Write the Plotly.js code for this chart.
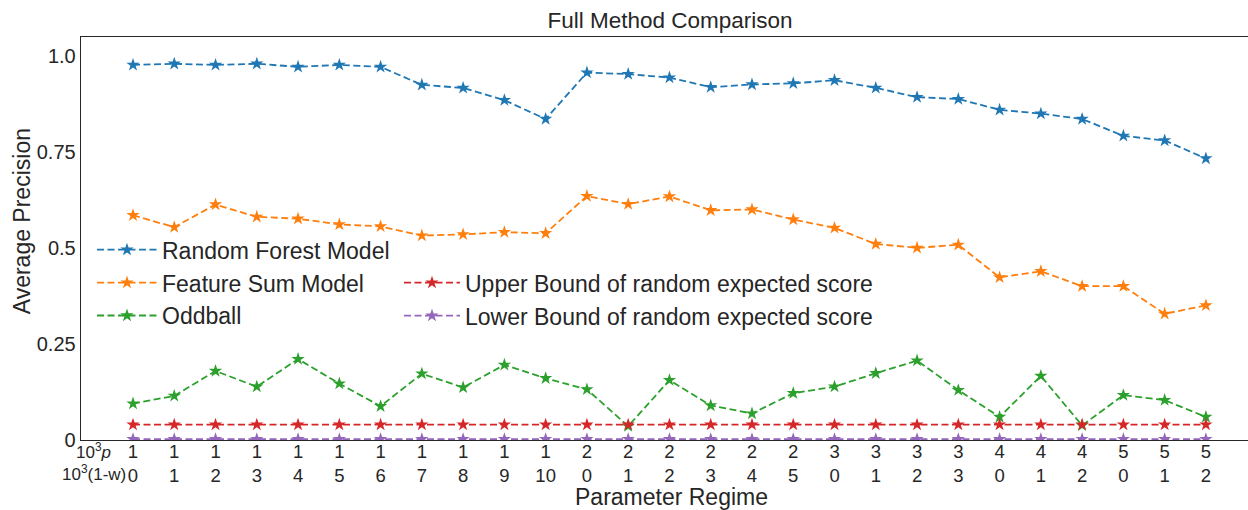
<!DOCTYPE html>
<html>
<head>
<meta charset="utf-8">
<script src="https://cdn.plot.ly/plotly-3.0.1.min.js"></script>
<style>html,body{margin:0;padding:0;background:#fff;}#chart{width:1248px;height:510px;}</style>
</head>
<body>
<div id="chart"></div>
<script>
// Parameter regimes: 10^3 p and 10^3 (1-w)
const regimeP = [1,1,1,1,1,1,1,1,1,1,1,2,2,2,2,2,2,3,3,3,3,4,4,4,5,5,5];
const regimeW = [0,1,2,3,4,5,6,7,8,9,10,0,1,2,3,4,5,0,1,2,3,0,1,2,0,1,2];

const randomForest = [0.978,0.981,0.978,0.981,0.973,0.978,0.973,0.926,0.918,0.886,0.837,0.958,0.954,0.945,0.920,0.927,0.930,0.938,0.918,0.894,0.889,0.861,0.851,0.837,0.793,0.781,0.734];
const featureSum   = [0.586,0.555,0.614,0.582,0.577,0.562,0.557,0.533,0.536,0.542,0.539,0.636,0.615,0.635,0.599,0.601,0.575,0.553,0.511,0.501,0.509,0.424,0.440,0.401,0.401,0.329,0.351];
const oddball      = [0.095,0.115,0.180,0.139,0.211,0.147,0.088,0.173,0.137,0.196,0.161,0.132,0.036,0.156,0.090,0.069,0.122,0.139,0.174,0.207,0.130,0.060,0.167,0.038,0.117,0.104,0.060];
const upperBound   = [0.040,0.040,0.040,0.040,0.040,0.040,0.040,0.040,0.040,0.040,0.040,0.040,0.040,0.040,0.040,0.040,0.040,0.040,0.040,0.040,0.040,0.040,0.040,0.040,0.040,0.040,0.040];
const lowerBound   = [0.002,0.002,0.002,0.002,0.002,0.002,0.002,0.002,0.002,0.002,0.002,0.002,0.002,0.002,0.002,0.002,0.002,0.002,0.002,0.002,0.002,0.002,0.002,0.002,0.002,0.002,0.002];

const seriesNames = ["Random Forest Model","Feature Sum Model","Oddball","Upper Bound of random expected score","Lower Bound of random expected score"];
const seriesColors = ["#1f77b4","#ff7f0e","#2ca02c","#d62728","#9467bd"];
const seriesData = [randomForest, featureSum, oddball, upperBound, lowerBound];
const seriesLegend = ["legend","legend","legend","legend2","legend2"];

const yTickVals = [0, 0.25, 0.5, 0.75, 1.0];
const yTickText = ["0", "0.25", "0.5", "0.75", "1.0"];

const xIdx = regimeP.map((_, i) => i);
const xTickText = regimeP.map((p, i) => p + "<br>" + regimeW[i]);

const traces = seriesData.map((ys, k) => ({
  type: "scatter",
  mode: "lines+markers",
  x: xIdx,
  y: ys,
  name: seriesNames[k],
  legend: seriesLegend[k],
  legendgroup: "g" + k,
  line: {color: seriesColors[k], width: 1.8, dash: "7px,3.5px"},
  marker: {symbol: "star", size: 10, color: seriesColors[k], line: {width: 0}}
}));

const ink = "#262626";
const font = "Liberation Sans, Arial, sans-serif";
const L = 81, R = 1248, T = 36.5, B = 440;
const px2x = p => (p - L) / (R - L);
const px2y = p => (B - p) / (B - T);

const layout = {
  width: 1248, height: 510,
  margin: {l: L, r: 0, t: T, b: 510 - B},
  paper_bgcolor: "#ffffff", plot_bgcolor: "#ffffff",
  font: {family: font, color: ink, size: 20},
  showlegend: true,
  title: {text: "Full Method Comparison", font: {size: 22.5, color: ink, family: font},
          x: 670/1248, xanchor: "center", xref: "container", y: 1 - 20/510, yanchor: "middle", yref: "container"},
  xaxis: {
    range: [-1.26, 27.02], automargin: false,
    tickmode: "array", tickvals: xIdx, ticktext: xTickText,
    tickfont: {size: 18.5, color: ink},
    ticklabelstandoff: -6,
    showgrid: false, zeroline: false,
    showline: true, linecolor: ink, linewidth: 1.3, mirror: true,
    ticks: "", ticklen: 0
  },
  yaxis: {
    range: [0, 1.0508], automargin: false,
    tickmode: "array", tickvals: yTickVals, ticktext: yTickText,
    tickfont: {size: 20, color: ink},
    showgrid: false, zeroline: false,
    showline: true, linecolor: ink, linewidth: 1.3, mirror: false,
    ticks: "", ticklen: 0
  },
  legend: {
    x: px2x(92), xref: "paper", xanchor: "left",
    y: px2y(228), yref: "paper", yanchor: "top",
    bgcolor: "rgba(0,0,0,0)", borderwidth: 0,
    font: {size: 23, color: ink, family: font},
    itemwidth: 60, traceorder: "grouped", tracegroupgap: 0
  },
  legend2: {
    x: px2x(399), xref: "paper", xanchor: "left",
    y: px2y(261), yref: "paper", yanchor: "top",
    bgcolor: "rgba(0,0,0,0)", borderwidth: 0,
    font: {size: 23, color: ink, family: font},
    itemwidth: 56, traceorder: "grouped", tracegroupgap: 0
  },
  annotations: [
    {text: "Parameter Regime", xref: "paper", yref: "paper",
     x: px2x(671), y: px2y(497), xanchor: "center", yanchor: "middle",
     showarrow: false, font: {size: 23, color: ink, family: font}},
    {text: "Average Precision", xref: "paper", yref: "paper", textangle: -90,
     x: px2x(22), y: px2y(221), xanchor: "center", yanchor: "middle",
     showarrow: false, font: {size: 23, color: ink, family: font}},
    {text: "10<sup>3</sup><i>p</i>", xref: "x", yref: "paper",
     x: -0.95, y: px2y(451), xanchor: "center", yanchor: "middle",
     showarrow: false, font: {size: 17, color: ink, family: font}},
    {text: "10<sup>3</sup>(1-w)", xref: "x", yref: "paper",
     x: -0.95, y: px2y(473), xanchor: "center", yanchor: "middle",
     showarrow: false, font: {size: 17, color: ink, family: font}}
  ]
};

Plotly.newPlot("chart", traces, layout, {displayModeBar: false, staticPlot: true});
</script>
</body>
</html>
